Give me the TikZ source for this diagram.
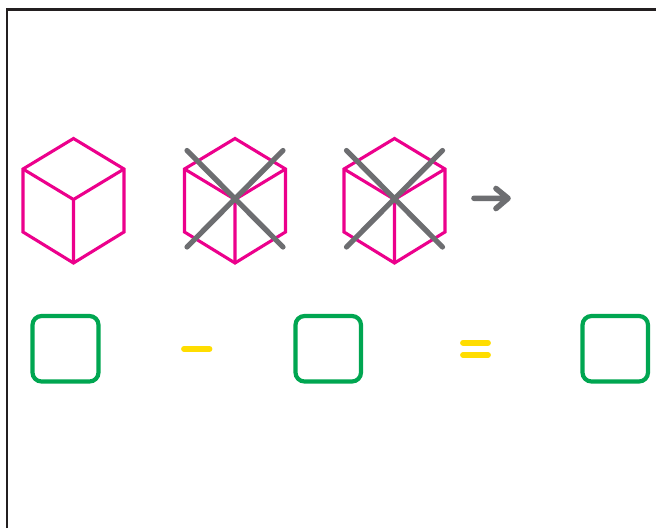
\documentclass[tikz,border=0pt]{standalone}
\definecolor{cubepink}{HTML}{EC008C}
\definecolor{crossgrey}{HTML}{6D6E71}
\definecolor{boxgreen}{HTML}{00A651}
\definecolor{opyellow}{HTML}{FFDD00}
\definecolor{framedark}{HTML}{231F20}
\tikzset{
  frameline/.style={draw=framedark,line width=2.9pt},
  cubeline/.style={draw=cubepink,line width=3.1pt,line join=miter},
  crossline/.style={draw=crossgrey,line width=5.2pt,line cap=round},
  arrowline/.style={draw=crossgrey,line width=5.6pt,line cap=round,line join=round},
  answerbox/.style={draw=boxgreen,line width=4.2pt,rounded corners=9pt},
  opline/.style={draw=opyellow,line width=5.8pt,line cap=round},
  pics/cube/.style={code={
    \draw[cubeline] (0,-61) -- (50.5,-30.5) -- (50.5,32.5) -- (0,63.5) -- (-50.5,32.5) -- (-50.5,-30.5) -- cycle;
    \draw[cubeline] (-50.5,-30.5) -- (0,0) -- (50.5,-30.5) (0,0) -- (0,63.5);
  }},
  pics/crossout/.style={code={
    \draw[crossline] (-48,-48.5) -- (48,48) (48,-48.5) -- (-48,48);
  }}
}
\begin{document}
\begin{tikzpicture}[x=1pt,y=-1pt]
\useasboundingbox (0,0) rectangle (656,528);
\fill[white] (0,0) rectangle (656,528);
\draw[frameline] (7,528) -- (7,9.5) -- (656,9.5);
\pic at (73.5,199.5) {cube};
\pic at (235,199.5) {cube};
\pic at (394.5,199.5) {cube};
\pic at (235,199) {crossout};
\pic at (394.5,199) {crossout};
\draw[arrowline] (474,198.3) -- (508,198.3) (496,188.5) -- (508,198.3) -- (496,208.5);
\draw[answerbox] (32.5,316) rectangle (98.5,381.5);
\draw[answerbox] (295.5,316) rectangle (361,381.5);
\draw[answerbox] (582.5,316) rectangle (648,381.5);
\draw[opline] (184,348.8) -- (209.5,348.8);
\draw[opline] (463,342.7) -- (488,342.7);
\draw[opline] (463,355) -- (488,355);
\end{tikzpicture}
\end{document}
